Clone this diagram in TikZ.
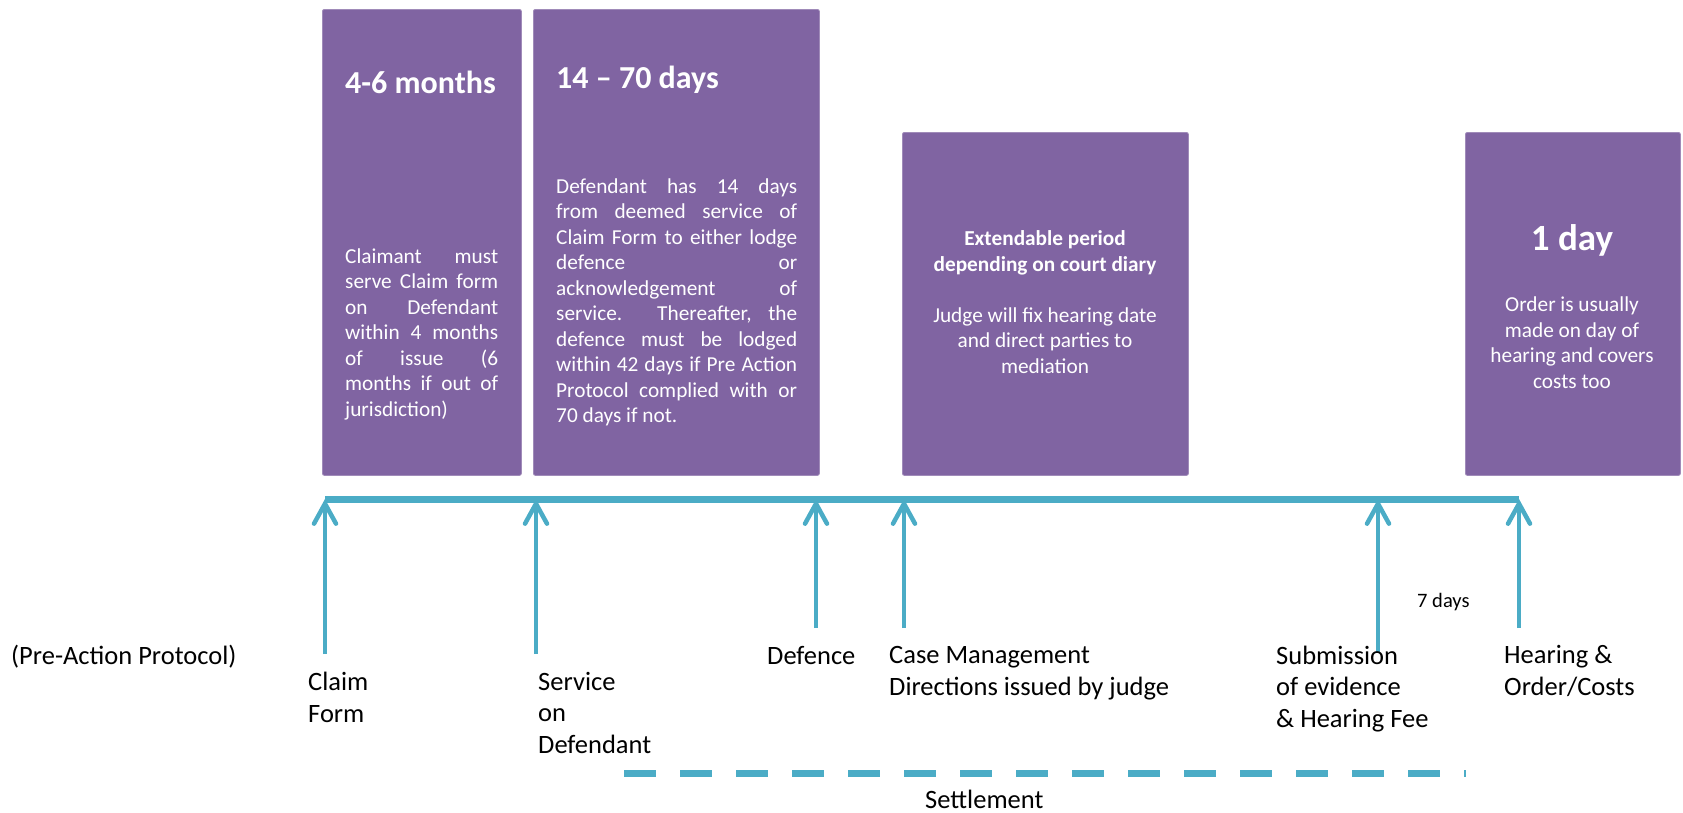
\documentclass[tikz,border=0pt]{standalone}
\usepackage{fontspec}
\setmainfont{Carlito}
\usetikzlibrary{arrows.meta}
\definecolor{boxpurple}{RGB}{128,100,162}
\definecolor{lineblue}{RGB}{75,172,198}

\begin{document}
\begin{tikzpicture}[x=1pt,y=-1pt,
    period/.style={fill=boxpurple,draw=boxpurple!75!white,line width=0.8pt,rounded corners=2pt,anchor=north west,inner sep=0pt},
    periodhead/.style={text=white,font=\fontsize{32}{40}\selectfont\bfseries,inner sep=0pt},
    periodtext/.style={text=white,font=\fontsize{21.3}{25.5}\selectfont,inner sep=0pt},
    evlabel/.style={font=\fontsize{26.5}{31.5}\selectfont,align=left,anchor=base west,inner sep=0pt},
    stagearrow/.style={lineblue,line width=4.5pt,-{Straight Barb[length=20pt,width=22pt,line cap=round]}}]
\useasboundingbox (0,0) rectangle (1683,812);

% periods
\node[period,minimum width=199pt,minimum height=466pt] (claimbox) at (322,9) {};
\node[period,minimum width=286pt,minimum height=466pt] (defbox) at (533,9) {};
\node[period,minimum width=286pt,minimum height=343pt] (diarybox) at (902,132) {};
\node[period,minimum width=215pt,minimum height=343pt] (hearbox) at (1465,132) {};

\node[periodhead,anchor=base west] (claimhead) at (345,93) {4-6 months};
\node[periodtext,anchor=base west,text width=153pt,align=justify] (claimtext) at (345,263)
    {Claimant must\linebreak serve Claim form\linebreak on Defendant\linebreak within 4 months\linebreak of issue (6\linebreak months if out of\linebreak jurisdiction)};

\node[periodhead,anchor=base west] (defhead) at (556,88) {14 – 70 days};
\node[periodtext,anchor=base west,text width=241pt,align=justify] (deftext) at (556,193)
    {Defendant has 14 days\linebreak from deemed service of\linebreak Claim Form to either lodge\linebreak defence or\linebreak acknowledgement of\linebreak service. Thereafter, the\linebreak defence must be lodged\linebreak within 42 days if Pre Action\linebreak Protocol complied with or\linebreak 70 days if not.};

% base of an aligned node = its last line
\node[periodtext,anchor=base,align=center] (diarytext) at (1045,373)
    {\bfseries Extendable period\\ \bfseries depending on court diary\\[25.5pt]
     Judge will fix hearing date\\ and direct parties to\\ mediation};

\node[periodhead,anchor=base,font=\fontsize{37}{44}\selectfont\bfseries] (hearhead) at (1572,250) {1 day};
\node[periodtext,anchor=base,align=center] (heartext) at (1572,388)
    {Order is usually\\ made on day of\\ hearing and covers\\ costs too};

% timeline
\foreach \x/\y/\n in {325/654/claim,536/654/service,816/628/defence,904/628/cmd,1378/653/evidence,1519/628/hearing}{
    \coordinate (top-\n) at (\x,499);
    \coordinate (foot-\n) at (\x,\y);
}
\draw[lineblue,line width=7pt] (top-claim) -- (top-hearing);
\foreach \n in {claim,service,defence,cmd,evidence,hearing}
    \draw[stagearrow] (foot-\n) -- (top-\n);

\node[evlabel] (prelbl) at (11,664) {(Pre-Action Protocol)};
\node[evlabel] (claimlbl) at (308,722) {Claim\\Form};
\node[evlabel] (servicelbl) at (538,753) {Service\\on\\Defendant};
\node[evlabel] (defencelbl) at (767,664) {Defence};
\node[evlabel] (cmdlbl) at (889,695) {Case Management\\Directions issued by judge};
\node[evlabel] (evidencelbl) at (1276,727) {Submission\\of evidence\\\& Hearing Fee};
\node[evlabel] (hearinglbl) at (1504,695) {Hearing \&\\Order/Costs};
\node[evlabel,font=\fontsize{20.5}{25}\selectfont] (sevenlbl) at (1417,607) {7 days};

% settlement
\coordinate (settle-start) at (624,773);
\coordinate (settle-end) at (1466,773);
\draw[lineblue,line width=7pt,dash pattern=on 32pt off 24pt] (settle-start) -- (settle-end);
\node[evlabel] (settlelbl) at (925,808) {Settlement};
\end{tikzpicture}
\end{document}
